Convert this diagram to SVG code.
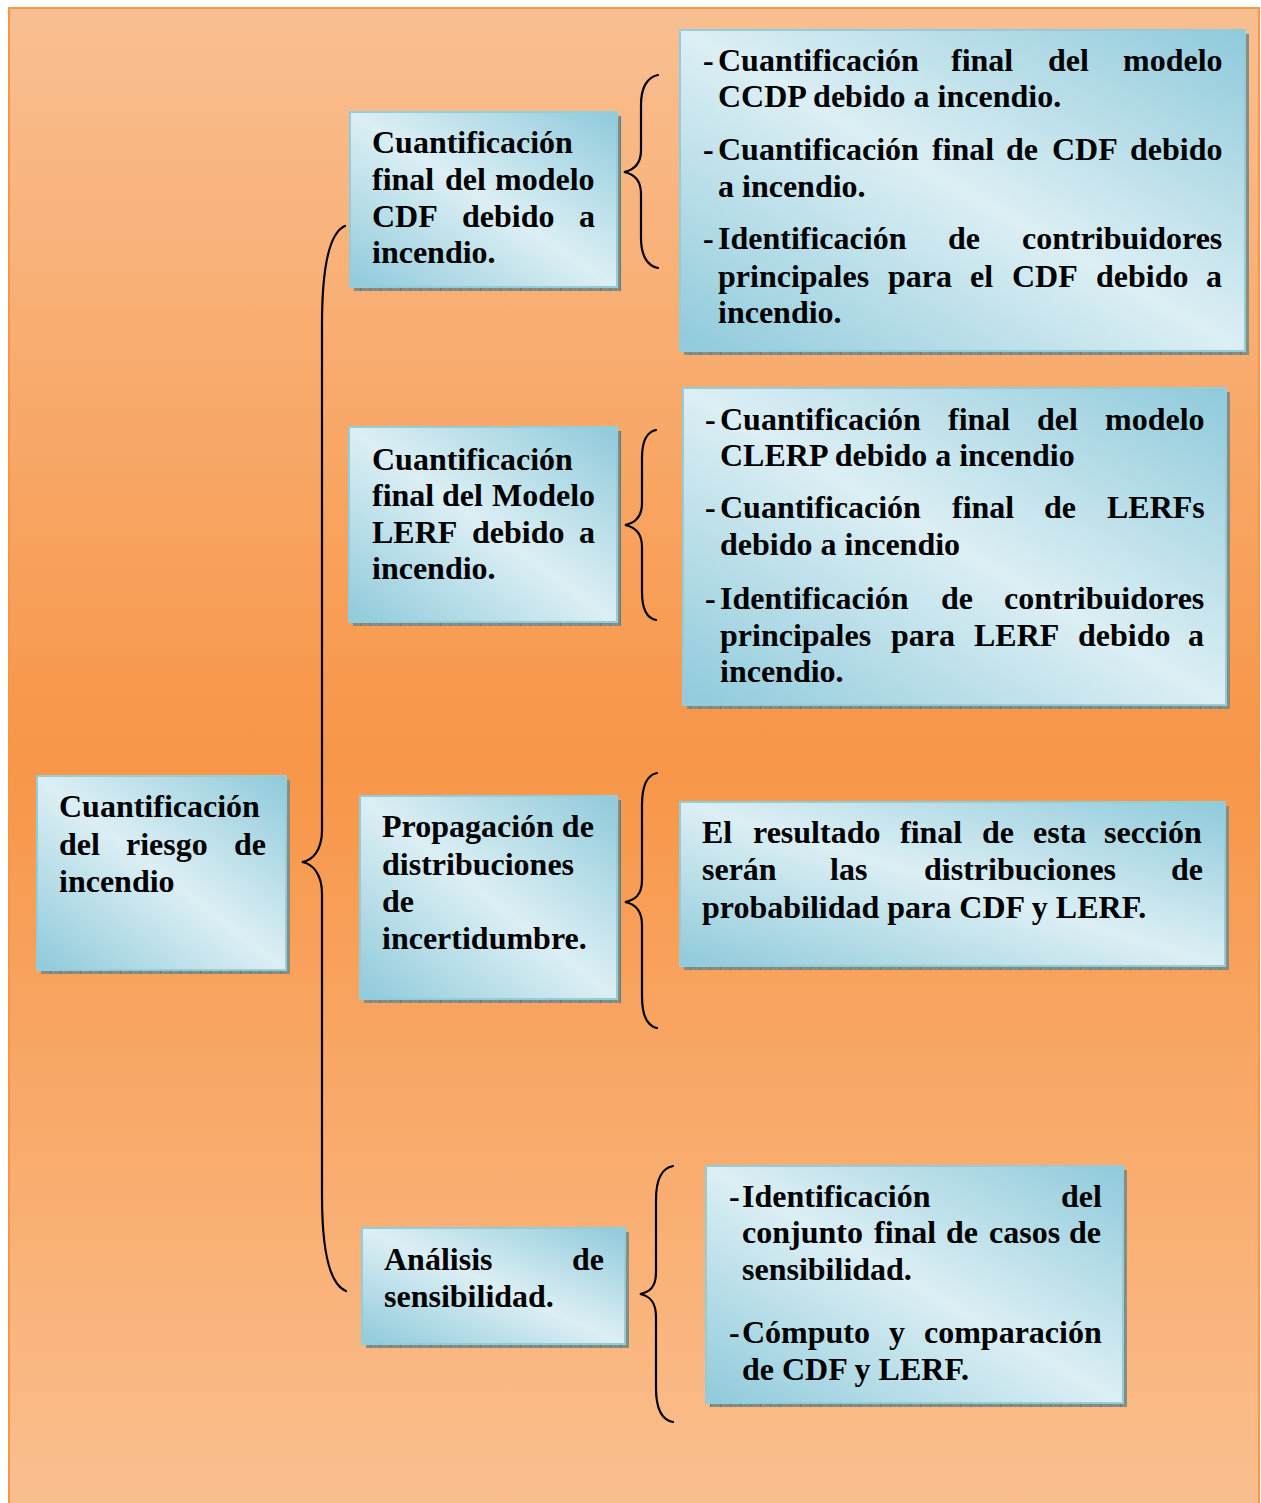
<svg xmlns="http://www.w3.org/2000/svg" width="1261" height="1503" viewBox="0 0 1261 1503">
<style>
.t{font-family:"Liberation Serif","Times New Roman",serif;font-weight:bold;font-size:32px;fill:#000}
.box{fill:url(#bg);stroke:#92CDDC;stroke-width:2}
.sh{fill:url(#shp)}
.br{fill:none;stroke:#000;stroke-width:2.2;stroke-linecap:round}
</style>
<defs>
<linearGradient id="page" x1="0" y1="0" x2="0" y2="1">
<stop offset="0" stop-color="#F9BF91"/>
<stop offset="0.5" stop-color="#F79648"/>
<stop offset="1" stop-color="#FABF8F"/>
</linearGradient>
<linearGradient id="bg" x1="1" y1="0" x2="0" y2="1">
<stop offset="0" stop-color="#8FCADB"/>
<stop offset="0.5" stop-color="#DCEFF4"/>
<stop offset="1" stop-color="#8FCADB"/>
</linearGradient>
<pattern id="shp" patternUnits="userSpaceOnUse" width="10" height="10">
<rect width="10" height="10" fill="#8A8C80"/>
<rect x="0" y="0" width="1" height="10" fill="#4E7E8A"/>
<rect x="5" y="0" width="1" height="1" fill="#6E8C8C"/>
</pattern>
</defs>
<rect x="9" y="8" width="1250" height="1500" fill="url(#page)" stroke="#F79646" stroke-width="2"/>

<g id="connectors">
<path class="br" d="M345,226 C331,232 322,262 322,325 L322,830 C322,850 313,860 302,862 C313,864 322,874 322,894 L322,1195 C322,1258 331,1285 346,1291"/>
<path class="br" d="M658,75 C647,77 641,88 641,105 L641,150 C641,164 634,170 624,172 C634,174 641,180 641,194 L641,238 C641,255 647,266 658,268"/>
<path class="br" d="M656,430 C646,432 642,442 642,458 L642,503 C642,517 635,523 625,525 C635,527 642,533 642,547 L642,592 C642,608 646,618 656,620"/>
<path class="br" d="M657,773 C647,775 642,786 642,805 L642,880 C642,895 635,900 625,902 C635,904 642,910 642,925 L642,996 C642,1015 647,1026 657,1028"/>
<path class="br" d="M673,1166 C662,1168 656,1180 656,1200 L656,1272 C656,1287 650,1292 640,1294 C650,1296 656,1302 656,1317 L656,1388 C656,1408 662,1420 673,1422"/>
</g>

<g id="n-main">
<rect class="sh" x="41" y="780" width="249" height="194"/>
<rect class="box" x="37" y="776" width="249" height="194"/>
<text class="t" x="59" y="817">Cuantificación</text>
<text class="t" y="855"><tspan x="59">del</tspan><tspan x="126">riesgo</tspan><tspan x="234">de</tspan></text>
<text class="t" x="59" y="892">incendio</text>
</g>

<g id="n-cdf">
<rect class="sh" x="354" y="116" width="267" height="175"/>
<rect class="box" x="350" y="112" width="267" height="175"/>
<text class="t" x="372" y="153">Cuantificación</text>
<text class="t" y="190"><tspan x="372">final</tspan><tspan x="445">del</tspan><tspan x="495">modelo</tspan></text>
<text class="t" y="227"><tspan x="372">CDF</tspan><tspan x="462">debido</tspan><tspan x="579">a</tspan></text>
<text class="t" x="372" y="263">incendio.</text>
</g>

<g id="n-lerf">
<rect class="sh" x="353" y="431" width="268" height="195"/>
<rect class="box" x="349" y="427" width="268" height="195"/>
<text class="t" x="372" y="470">Cuantificación</text>
<text class="t" y="506"><tspan x="372">final</tspan><tspan x="442">del</tspan><tspan x="492">Modelo</tspan></text>
<text class="t" y="543"><tspan x="372">LERF</tspan><tspan x="472">debido</tspan><tspan x="579">a</tspan></text>
<text class="t" x="372" y="579">incendio.</text>
</g>

<g id="n-prop">
<rect class="sh" x="364" y="800" width="257" height="203"/>
<rect class="box" x="360" y="796" width="257" height="203"/>
<text class="t" x="382" y="837">Propagación de</text>
<text class="t" x="382" y="875">distribuciones</text>
<text class="t" x="382" y="912">de</text>
<text class="t" x="382" y="949">incertidumbre.</text>
</g>

<g id="n-anal">
<rect class="sh" x="366" y="1232" width="263" height="116"/>
<rect class="box" x="362" y="1228" width="263" height="116"/>
<text class="t" y="1270"><tspan x="384">Análisis</tspan><tspan x="572">de</tspan></text>
<text class="t" x="384" y="1307">sensibilidad.</text>
</g>

<g id="n-r1">
<rect class="sh" x="684" y="34" width="565" height="321"/>
<rect class="box" x="680" y="30" width="565" height="321"/>
<text class="t" y="71"><tspan x="703">-</tspan><tspan x="718">Cuantificación</tspan><tspan x="951">final</tspan><tspan x="1048">del</tspan><tspan x="1123">modelo</tspan></text>
<text class="t" x="718" y="107">CCDP debido a incendio.</text>
<text class="t" y="160"><tspan x="703">-</tspan><tspan x="718">Cuantificación</tspan><tspan x="932">final</tspan><tspan x="1006">de</tspan><tspan x="1052">CDF</tspan><tspan x="1130">debido</tspan></text>
<text class="t" x="718" y="197">a incendio.</text>
<text class="t" y="249"><tspan x="703">-</tspan><tspan x="718">Identificación</tspan><tspan x="948">de</tspan><tspan x="1022">contribuidores</tspan></text>
<text class="t" y="287"><tspan x="718">principales</tspan><tspan x="888">para</tspan><tspan x="970">el</tspan><tspan x="1012">CDF</tspan><tspan x="1096">debido</tspan><tspan x="1206">a</tspan></text>
<text class="t" x="718" y="323">incendio.</text>
</g>

<g id="n-r2">
<rect class="sh" x="687" y="392" width="543" height="317"/>
<rect class="box" x="683" y="388" width="543" height="317"/>
<text class="t" y="430"><tspan x="705">-</tspan><tspan x="720">Cuantificación</tspan><tspan x="948">final</tspan><tspan x="1037">del</tspan><tspan x="1105">modelo</tspan></text>
<text class="t" x="720" y="466">CLERP debido a incendio</text>
<text class="t" y="518"><tspan x="705">-</tspan><tspan x="720">Cuantificación</tspan><tspan x="952">final</tspan><tspan x="1044">de</tspan><tspan x="1107">LERFs</tspan></text>
<text class="t" x="720" y="555">debido a incendio</text>
<text class="t" y="609"><tspan x="705">-</tspan><tspan x="720">Identificación</tspan><tspan x="941">de</tspan><tspan x="1004">contribuidores</tspan></text>
<text class="t" y="646"><tspan x="720">principales</tspan><tspan x="891">para</tspan><tspan x="974">LERF</tspan><tspan x="1078">debido</tspan><tspan x="1188">a</tspan></text>
<text class="t" x="720" y="682">incendio.</text>
</g>

<g id="n-r3">
<rect class="sh" x="684" y="806" width="545" height="164"/>
<rect class="box" x="680" y="802" width="545" height="164"/>
<text class="t" y="843"><tspan x="702">El</tspan><tspan x="753">resultado</tspan><tspan x="900">final</tspan><tspan x="982">de</tspan><tspan x="1033">esta</tspan><tspan x="1104">sección</tspan></text>
<text class="t" y="880"><tspan x="702">serán</tspan><tspan x="830">las</tspan><tspan x="924">distribuciones</tspan><tspan x="1171">de</tspan></text>
<text class="t" x="702" y="918">probabilidad para CDF y LERF.</text>
</g>

<g id="n-r4">
<rect class="sh" x="710" y="1170" width="417" height="237"/>
<rect class="box" x="706" y="1166" width="417" height="237"/>
<text class="t" y="1207"><tspan x="729">-</tspan><tspan x="742">Identificación</tspan><tspan x="1061">del</tspan></text>
<text class="t" y="1243"><tspan x="742">conjunto</tspan><tspan x="874">final</tspan><tspan x="946">de</tspan><tspan x="989">casos</tspan><tspan x="1069">de</tspan></text>
<text class="t" x="742" y="1280">sensibilidad.</text>
<text class="t" y="1343"><tspan x="729">-</tspan><tspan x="742">Cómputo</tspan><tspan x="889">y</tspan><tspan x="924">comparación</tspan></text>
<text class="t" x="742" y="1380">de CDF y LERF.</text>
</g>
</svg>
